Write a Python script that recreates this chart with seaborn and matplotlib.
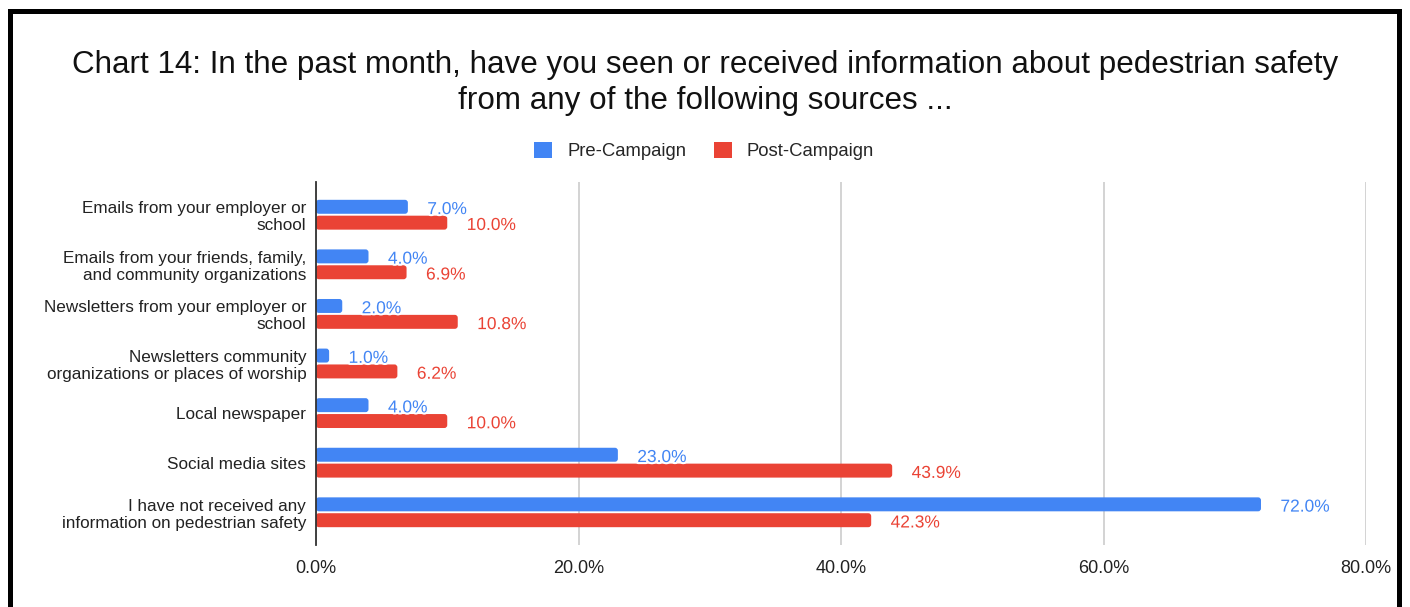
import matplotlib
matplotlib.use("Agg")
import matplotlib.pyplot as plt
import seaborn as sns
import pandas as pd
from matplotlib.patches import FancyBboxPatch, Patch
from matplotlib.lines import Line2D
import matplotlib.patheffects as pe

categories = [
    "Emails from your employer or\nschool",
    "Emails from your friends, family,\nand community organizations",
    "Newsletters from your employer or\nschool",
    "Newsletters community\norganizations or places of worship",
    "Local newspaper",
    "Social media sites",
    "I have not received any\ninformation on pedestrian safety",
]
pre_campaign = [7.0, 4.0, 2.0, 1.0, 4.0, 23.0, 72.0]
post_campaign = [10.0, 6.9, 10.8, 6.2, 10.0, 43.9, 42.3]
series_names = ["Pre-Campaign", "Post-Campaign"]
x_ticks = [0, 20, 40, 60, 80]

BLUE = "#4285F4"
RED = "#EA4335"
palette = {series_names[0]: BLUE, series_names[1]: RED}

df = pd.DataFrame({
    "source": categories * 2,
    "share": pre_campaign + post_campaign,
    "campaign": [series_names[0]] * len(categories) + [series_names[1]] * len(categories),
})

sns.set_style("white")
plt.rcParams["font.family"] = ["Liberation Sans", "DejaVu Sans"]

W, H = 1410, 607
fig = plt.figure(figsize=(W / 100, H / 100), dpi=100)
ax = fig.add_axes([316 / W, 1 - 545 / H, (1366 - 316) / W, (545 - 182) / H])

sns.barplot(data=df, y="source", x="share", hue="campaign", palette=palette,
            orient="h", width=0.64, gap=0.12, ax=ax, legend=False,
            saturation=1, order=categories, hue_order=series_names)

# replace plain rectangles with slightly rounded bars
bars = list(ax.patches)
for p in bars:
    x0, y0 = p.get_x(), p.get_y()
    w, h = p.get_width(), p.get_height()
    if w <= 0:
        continue
    fb = FancyBboxPatch((x0, y0), w, h,
                        boxstyle="round,pad=0,rounding_size=0.22",
                        mutation_aspect=0.27,
                        facecolor=p.get_facecolor(), edgecolor="none", zorder=3)
    p.remove()
    ax.add_patch(fb)

ax.set_xlim(0, 80)
ax.set_ylim(6.66, -0.66)
ax.set_xticks(x_ticks)
ax.set_xticklabels([f"{t:.1f}%" for t in x_ticks])
ax.set_xlabel("")
ax.set_ylabel("")
ax.tick_params(axis="x", length=0, pad=11, labelsize=13, labelcolor="#222222")
ax.tick_params(axis="y", length=0, pad=7, labelsize=12.3, labelcolor="#222222")
for lbl in ax.get_yticklabels():
    lbl.set_linespacing(1.15)
ax.grid(axis="x", color="#cccccc", linewidth=1.2, zorder=0)
ax.grid(axis="y", visible=False)
ax.set_axisbelow(True)
for s in ["top", "right", "bottom"]:
    ax.spines[s].set_visible(False)
ax.spines["left"].set_color("#333333")
ax.spines["left"].set_linewidth(1.3)
ax.spines["left"].set_zorder(5)

# value labels at the end of each bar
offsets = [-0.16, 0.16]
for si, (vals, col) in enumerate([(pre_campaign, BLUE), (post_campaign, RED)]):
    for i, v in enumerate(vals):
        t = ax.annotate(f"{v:.1f}%", xy=(v, i + offsets[si]), xytext=(14, -2),
                        textcoords="offset points", ha="left", va="center",
                        fontsize=12.5, color=col, zorder=6)
        t.set_path_effects([pe.withStroke(linewidth=3, foreground="white")])

fig.text(705 / W, 1 - 83 / H,
         "Chart 14: In the past month, have you seen or received information about pedestrian safety\nfrom any of the following sources ...",
         ha="center", va="center", fontsize=22.6, color="#111111", linespacing=1.27)

handles = [Patch(facecolor=BLUE, edgecolor="none"), Patch(facecolor=RED, edgecolor="none")]
fig.legend(handles, series_names, loc="center", bbox_to_anchor=(704 / W, 1 - 151 / H),
           ncol=2, frameon=False, fontsize=13.3, handlelength=1.0, handleheight=1.0,
           handletextpad=0.8, columnspacing=1.5)

# black frame on left, top and right
lw = 5 * 72 / 100
fig.add_artist(Line2D([9.5 / W, 9.5 / W], [0, 1 - 10.5 / H], color="black", linewidth=lw, solid_capstyle="projecting"))
fig.add_artist(Line2D([9.5 / W, 1398.5 / W], [1 - 10.5 / H, 1 - 10.5 / H], color="black", linewidth=lw, solid_capstyle="projecting"))
fig.add_artist(Line2D([1398.5 / W, 1398.5 / W], [0, 1 - 10.5 / H], color="black", linewidth=lw, solid_capstyle="projecting"))

fig.savefig("out.png", dpi=100, facecolor="white")
